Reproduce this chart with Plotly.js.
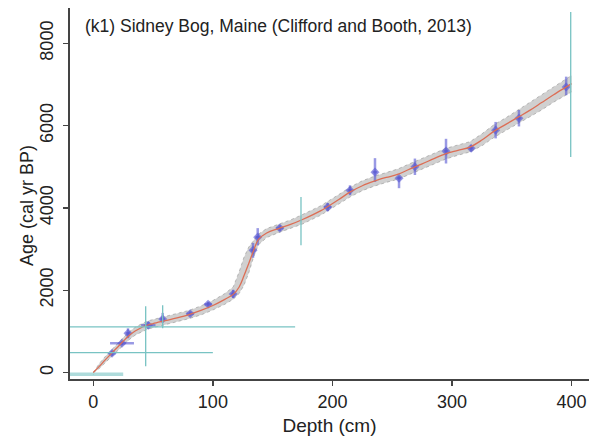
<!DOCTYPE html>
<html>
<head>
<meta charset="utf-8">
<script src="https://cdn.plot.ly/plotly-3.0.1.min.js"></script>
<style>html,body{margin:0;padding:0;background:#fff;}#chart{width:589px;height:441px;}</style>
</head>
<body>
<div id="chart"></div>
<script>
// Age-depth model (median and envelope)
const modelDepth = [0,5,10,15,20,25,30,35,40,45,50,60,70,80,90,100,110,117,122,126,130,134,138,145,155,165,175,190,205,215,225,235,245,255,265,275,285,295,305,315,325,335,345,355,365,375,385,395,400];
const modelAge   = [0,150,310,460,610,760,900,1010,1090,1150,1190,1260,1330,1410,1510,1630,1780,1900,2080,2350,2650,2960,3230,3390,3500,3600,3720,3930,4200,4390,4540,4650,4740,4820,4950,5070,5200,5320,5400,5480,5650,5860,6030,6200,6370,6560,6750,6930,7020];
const modelLow   = [0,100,240,380,520,660,800,910,990,1050,1090,1160,1230,1310,1400,1520,1660,1780,1920,2120,2420,2800,3100,3280,3400,3500,3610,3820,4080,4270,4420,4530,4620,4700,4820,4940,5070,5190,5280,5360,5510,5710,5880,6040,6200,6380,6570,6740,6820];
const modelHigh  = [0,220,390,550,700,850,990,1100,1180,1250,1290,1360,1430,1510,1620,1750,1920,2080,2450,2800,3050,3200,3360,3500,3610,3710,3840,4050,4320,4510,4660,4770,4860,4950,5080,5200,5330,5450,5530,5610,5800,6020,6190,6370,6550,6750,6940,7130,7220];

// Radiocarbon dates (calibrated)
const dateDepth     = [15.7,24,29,46,58,81,96,117,133.6,137.5,156,196,214.7,235.6,255.7,269,295,316,336.5,356,395.5];
const dateAge       = [470,713,955,1150,1300,1430,1660,1910,2970,3290,3510,4020,4430,4870,4720,5000,5380,5450,5890,6180,6940];
const dateErrPlus   = [60,50,120,80,150,60,60,100,180,220,70,100,120,340,60,200,300,80,200,200,250];
const dateErrMinus  = [60,50,120,80,80,60,60,100,180,200,70,100,120,240,240,200,300,80,200,200,200];
const dateDepthErr  = [3,10,2,6,2,3,3,2,2,2,3,3,2,2,2,2,2,2,2,2,2];

// Outlying / rejected dates
const outDepth      = [43.8,40,58,173.7,399.3];
const outAge        = [1109,486,1300,3680,7000];
const outAgePlus    = [503,0,337,583,1761];
const outAgeMinus   = [956,0,223,585,1765];
const outDepthErr   = [125,60,0,0,0];

// Surface age
const surfDepth = [0];
const surfAge = [-40];
const surfDepthErr = [25];

const xTicks = [0,100,200,300,400];
const yTicks = [0,2000,4000,6000,8000];

const teal = 'rgb(120,195,195)';
const blue = 'rgba(85,85,210,0.6)';

const traces = [
  {x: modelDepth, y: modelLow, mode:'lines', line:{color:'rgba(120,120,120,0.55)', width:0.8, dash:'dot'}, hoverinfo:'skip', showlegend:false},
  {x: modelDepth, y: modelHigh, mode:'lines', fill:'tonexty', fillcolor:'rgba(150,150,150,0.45)', line:{color:'rgba(120,120,120,0.55)', width:0.8, dash:'dot'}, hoverinfo:'skip', showlegend:false},
  {x: surfDepth, y: surfAge, mode:'markers', marker:{size:1, color:'rgba(120,195,195,0.6)'},
   error_x:{type:'data', array: surfDepthErr, color:'rgba(120,195,195,0.6)', thickness:3.5, width:0}, showlegend:false},
  {x: dateDepth, y: dateAge, mode:'markers', marker:{symbol:'diamond', size:7, color: blue},
   error_y:{type:'data', symmetric:false, array: dateErrPlus, arrayminus: dateErrMinus, color: blue, thickness:2.5, width:0},
   error_x:{type:'data', array: dateDepthErr, color: blue, thickness:2.5, width:0}, showlegend:false},
  {x: modelDepth, y: modelAge, mode:'lines', line:{color:'rgb(220,110,85)', width:1.3, shape:'spline'}, showlegend:false},
  {x: outDepth, y: outAge, mode:'markers', marker:{size:1, color: teal},
   error_y:{type:'data', symmetric:false, array: outAgePlus, arrayminus: outAgeMinus, color: teal, thickness:1.3, width:0},
   error_x:{type:'data', array: outDepthErr, color: teal, thickness:1.3, width:0}, showlegend:false}
];

const layout = {
  width:589, height:441,
  margin:{l:70, r:0, t:8, b:62},
  paper_bgcolor:'#fff', plot_bgcolor:'#fff',
  font:{family:'Liberation Sans, Arial, sans-serif', color:'#222'},
  xaxis:{range:[-19.5,414.6], tickvals:xTicks, ticktext:xTicks.map(String), ticks:'outside', ticklen:5, tickwidth:1.5, tickcolor:'#444',
    showline:true, linecolor:'#444', linewidth:2, showgrid:false, zeroline:false, tickfont:{size:18},
    title:{text:'Depth (cm)', font:{size:19}, standoff:8}},
  yaxis:{range:[-156,8858], tickvals:yTicks, ticktext:yTicks.map(String), ticks:'outside', ticklen:5, tickwidth:1.5, tickcolor:'#444',
    showline:true, linecolor:'#444', linewidth:2, showgrid:false, zeroline:false, tickfont:{size:18}, tickangle:-90, ticklabelstandoff:3},
  annotations:[
    {text:'(k1) Sidney Bog, Maine (Clifford and Booth, 2013)', xref:'paper', yref:'paper', x:0.025, y:0.985, xanchor:'left', yanchor:'top', showarrow:false, font:{size:17.5, color:'#222'}},
    {text:'Age (cal yr BP)', xref:'paper', yref:'paper', x:-0.083, y:0.469, xanchor:'center', yanchor:'middle', textangle:-90, showarrow:false, font:{size:18, color:'#222'}}
  ]
};

Plotly.newPlot('chart', traces, layout, {displayModeBar:false, staticPlot:true});
</script>
</body>
</html>
